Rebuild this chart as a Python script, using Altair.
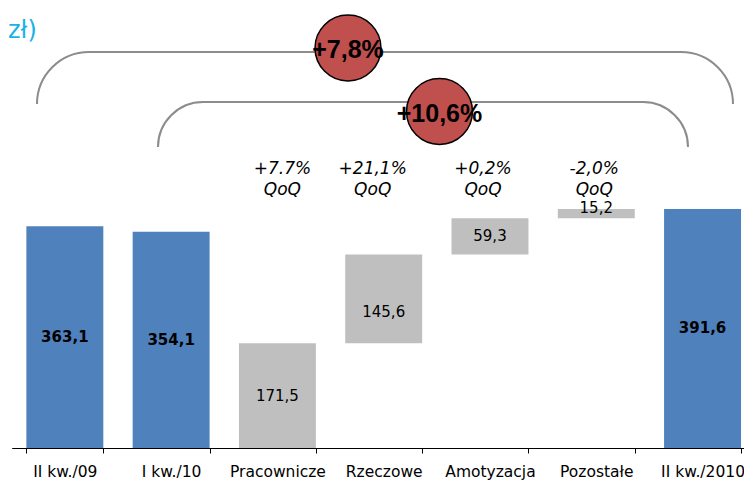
import math
import altair as alt
import pandas as pd

# ---------------- data ----------------
categories = ["II kw./09", "I kw./10", "Pracownicze", "Rzeczowe", "Amotyzacja", "Pozostałe", "II kw./2010"]
values = [363.1, 354.1, 171.5, 145.6, 59.3, 15.2, 391.6]
kinds = ["total", "total", "part", "part", "part", "part", "total"]
value_labels = ["363,1", "354,1", "171,5", "145,6", "59,3", "15,2", "391,6"]

qoq_categories = ["Pracownicze", "Rzeczowe", "Amotyzacja", "Pozostałe"]
qoq_changes = ["+7.7%", "+21,1%", "+0,2%", "-2,0%"]
qoq_suffix = "QoQ"

yoy_total_change = "+7,8%"
qoq_total_change = "+10,6%"
unit_text = "zł)"

# ---------------- table ----------------
rows = []
running = 0.0
for c, v, k, lab in zip(categories, values, kinds, value_labels):
    if k == "total":
        s, e = 0.0, v
    else:
        s, e = running, running + v
        running = e
    rows.append({"cat": c, "start": s, "end": e, "mid": (s + e) / 2, "kind": k, "label": lab})
df = pd.DataFrame(rows)

qoq_df = pd.DataFrame({"cat": qoq_categories,
                       "lines": [[p, qoq_suffix] for p in qoq_changes]})

# ---------------- layout constants ----------------
W, H = 736, 440
X_RANGE = [3.7, 747.7]
Y_MAX = 720.7
FONT = "DejaVu Sans"
BLUE = "#4f81bd"
GREY = "#bfbfbf"
RED = "#c0504d"
LINE = "#8c8c8c"
QOQ_DX = [5, -11, -7, -2]   # horizontal nudges of the QoQ captions (pixels)

x_enc = alt.X("cat:N", sort=categories,
              scale=alt.Scale(domain=categories, range=X_RANGE, paddingInner=0.276, paddingOuter=0.138),
              axis=alt.Axis(title=None, tickBand="extent", labelAngle=0, labelFont=FONT, labelFontSize=15.5,
                            labelColor="#000", domainColor="#000", tickColor="#000", tickSize=5,
                            labelPadding=11, domainWidth=1, tickWidth=1, grid=False))
y_scale = alt.Scale(domain=[0, Y_MAX], nice=False, zero=True)

bars = alt.Chart(df).mark_bar().encode(
    x=x_enc,
    y=alt.Y("start:Q", scale=y_scale, axis=None),
    y2="end:Q",
    color=alt.Color("kind:N", scale=alt.Scale(domain=["total", "part"], range=[BLUE, GREY]), legend=None),
)

def lbl(filter_expr, bold, dy):
    return alt.Chart(df).transform_filter(filter_expr).mark_text(
        font=FONT, fontSize=15, fontWeight="bold" if bold else "normal", color="#000",
        baseline="middle", dy=dy
    ).encode(x=alt.X("cat:N", sort=categories), y=alt.Y("mid:Q", scale=y_scale, axis=None), text="label:N")

labels_total = lbl("datum.kind == 'total'", True, 0)
labels_part = lbl("datum.kind == 'part' && datum.cat != 'Rzeczowe' && datum.cat != 'Pozostałe'", False, 0)
labels_rz = lbl("datum.cat == 'Rzeczowe'", False, 13)
labels_poz = lbl("datum.cat == 'Pozostałe'", False, -6)

qoq_layers = []
for cat, dx in zip(qoq_categories, QOQ_DX):
    qoq_layers.append(
        alt.Chart(qoq_df).transform_filter(alt.datum.cat == cat).mark_text(
            font=FONT, fontSize=17, fontStyle="italic", color="#000", baseline="alphabetic",
            lineHeight=21, dx=dx
        ).encode(x=alt.X("cat:N", sort=categories), y=alt.value(166), text="lines")
    )

one = pd.DataFrame({"a": [0]})

def rule(x1, x2, y1, y2):
    return alt.Chart(one).mark_rule(color=LINE, strokeWidth=2).encode(
        x=alt.value(x1), x2=alt.value(x2), y=alt.value(y1), y2=alt.value(y2))

def corner(cx, cy, r, t1, t2):
    return alt.Chart(one).mark_arc(
        radius=r, radius2=r, theta=t1, theta2=t2, fillOpacity=0, stroke=LINE, strokeWidth=2
    ).encode(x=alt.value(cx), y=alt.value(cy))

# big (YoY) bracket
r1 = 52
b1_l, b1_r, b1_t = 29, 725, 44
# small (QoQ) bracket
r2 = 45
b2_l, b2_r, b2_t = 150, 680, 94

brackets = [
    rule(b1_l + r1, b1_r - r1, b1_t, b1_t),
    corner(b1_l + r1, b1_t + r1, r1, 1.5 * math.pi, 2 * math.pi),
    corner(b1_r - r1, b1_t + r1, r1, 0, 0.5 * math.pi),
    rule(b2_l + r2, b2_r - r2, b2_t, b2_t),
    corner(b2_l + r2, b2_t + r2, r2, 1.5 * math.pi, 2 * math.pi),
    corner(b2_r - r2, b2_t + r2, r2, 0, 0.5 * math.pi),
]

def bubble(cx, cy, txt):
    c = alt.Chart(one).mark_point(shape="circle", size=4350, filled=True, fill=RED, fillOpacity=1,
                                  stroke="#000", strokeWidth=1.5, opacity=1).encode(
        x=alt.value(cx), y=alt.value(cy))
    t = alt.Chart(pd.DataFrame({"t": [txt]})).mark_text(
        font="Liberation Sans", fontSize=25, fontWeight="bold", color="#000", baseline="middle"
    ).encode(x=alt.value(cx), y=alt.value(cy + 2), text="t:N")
    return [c, t]

bubbles = bubble(340, 40, yoy_total_change) + bubble(431.5, 103.5, qoq_total_change)

unit = alt.Chart(pd.DataFrame({"t": [unit_text]})).mark_text(
    font=FONT, fontSize=24, color="#19b2e6", align="left", baseline="alphabetic"
).encode(x=alt.value(0), y=alt.value(30), text="t:N")

chart = alt.layer(
    bars, labels_total, labels_part, labels_rz, labels_poz, *qoq_layers,
    *brackets, *bubbles, unit
).properties(
    width=W, height=H,
    autosize=alt.AutoSizeParams(type="none"),
    padding={"left": 0, "top": 0, "right": 0, "bottom": 32},
    background="white",
).configure_view(stroke=None)

chart.save("out.html", embed_options={"renderer": "svg", "actions": False})
